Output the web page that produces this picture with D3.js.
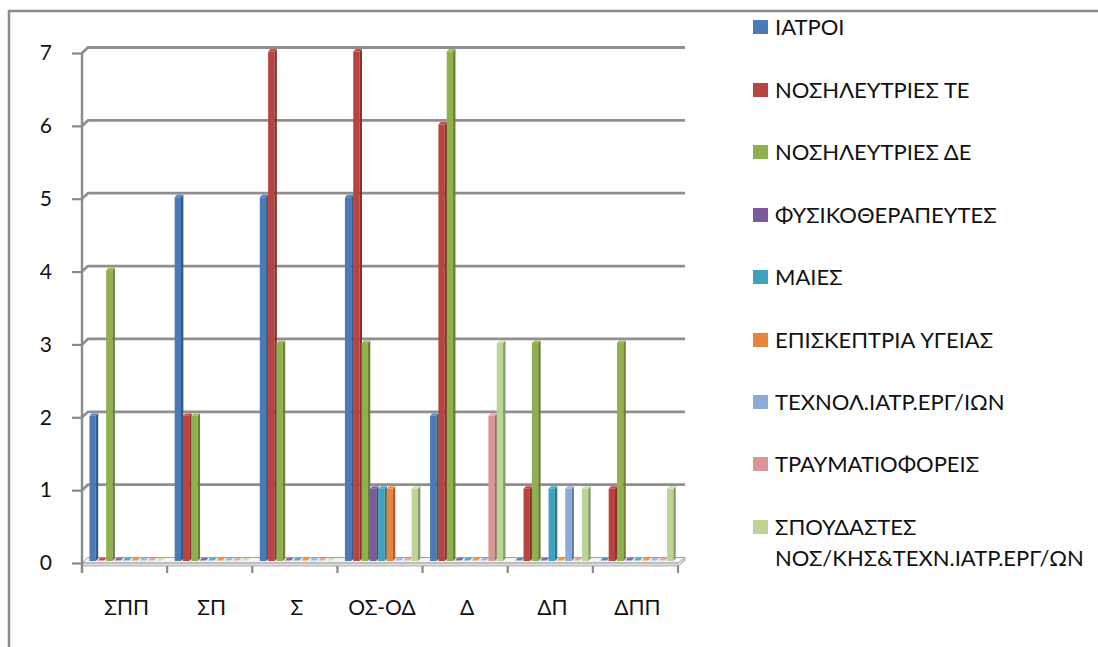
<!DOCTYPE html>
<html>
<head>
<meta charset="utf-8">
<script src="https://cdn.jsdelivr.net/npm/d3@7"></script>
<style>
  html, body { margin: 0; padding: 0; background: #ffffff; }
  svg { display: block; }
  text { font-family: Lato, "Open Sans", "Noto Sans", sans-serif; }
</style>
</head>
<body>
<svg id="chart" width="1098" height="647"></svg>
<script>
// ---- data ----
const categories = ["ΣΠΠ", "ΣΠ", "Σ", "ΟΣ-ΟΔ", "Δ", "ΔΠ", "ΔΠΠ"];
const seriesNames = [
  "ΙΑΤΡΟΙ",
  "ΝΟΣΗΛΕΥΤΡΙΕΣ ΤΕ",
  "ΝΟΣΗΛΕΥΤΡΙΕΣ ΔΕ",
  "ΦΥΣΙΚΟΘΕΡΑΠΕΥΤΕΣ",
  "ΜΑΙΕΣ",
  "ΕΠΙΣΚΕΠΤΡΙΑ ΥΓΕΙΑΣ",
  "ΤΕΧΝΟΛ.ΙΑΤΡ.ΕΡΓ/ΙΩΝ",
  "ΤΡΑΥΜΑΤΙΟΦΟΡΕΙΣ",
  "ΣΠΟΥΔΑΣΤΕΣ ΝΟΣ/ΚΗΣ&ΤΕΧΝ.ΙΑΤΡ.ΕΡΓ/ΩΝ"
];
const iatroi      = [2, 5, 5, 5, 2, 0, 0];
const nosTE       = [0, 2, 7, 7, 6, 1, 1];
const nosDE       = [4, 2, 3, 3, 7, 3, 3];
const fysiko      = [0, 0, 0, 1, 0, 0, 0];
const maies       = [0, 0, 0, 1, 0, 1, 0];
const episkeptria = [0, 0, 0, 1, 0, 0, 0];
const technol     = [0, 0, 0, 0, 0, 1, 0];
const traumatio   = [0, 0, 0, 0, 2, 0, 0];
const spoudastes  = [0, 0, 0, 1, 3, 1, 1];
const yTicks = [0, 1, 2, 3, 4, 5, 6, 7];
const colors = ["#4a7bb7", "#b8433f", "#8fb04d", "#7a5c9c", "#3fa3bd", "#e8843c", "#8eaad8", "#d99694", "#bdd497"];

const seriesValues = [iatroi, nosTE, nosDE, fysiko, maies, episkeptria, technol, traumatio, spoudastes];
const series = seriesNames.map((n, i) => ({ name: n, values: seriesValues[i], color: colors[i] }));

// ---- layout ----
const svg = d3.select("#chart");
const DX = 6, DY = -5.5;        // depth offset of back wall
const BD = 2.4;                 // bar depth

const x0 = d3.scaleBand().domain(categories).range([82, 678]);
const x1 = d3.scaleBand().domain(seriesNames).range([7.5, 82.5]);
const y = d3.scaleLinear().domain([0, 7]).range([563, 53]);

// outer chart border
svg.append("path")
  .attr("d", "M9,647 L9,11 L1098,11")
  .attr("fill", "none").attr("stroke", "#8a8a8a").attr("stroke-width", 2.5);

// gridlines on back wall (with left wall diagonal)
const gl = svg.append("g");
yTicks.forEach(t => {
  if (t === 0) return;
  const yy = y(t);
  gl.append("path")
    .attr("d", `M82,${yy} L${82 + DX},${yy + DY} L${685},${yy + DY}`)
    .attr("fill", "none").attr("stroke", "#8f8f8f").attr("stroke-width", 2.8);
});

// floor slab
const y0 = y(0);
svg.append("path")
  .attr("d", `M82,${y0} L${82 + DX},${y0 + DY} L685,${y0 + DY} L678,${y0} Z`)
  .attr("fill", "#f4f4f4").attr("stroke", "#a0a0a0").attr("stroke-width", 1);
svg.append("rect")
  .attr("x", 82).attr("y", y0).attr("width", 596).attr("height", 3)
  .attr("fill", "#dcdcdc").attr("stroke", "#a0a0a0").attr("stroke-width", 0.8);
svg.append("path")
  .attr("d", `M678,${y0 + 3} L685,${y0 + 3 + DY} L685,${y0 + DY}`)
  .attr("fill", "#c8c8c8").attr("stroke", "#a0a0a0").attr("stroke-width", 0.8);

// bars
const fw = x1.bandwidth() - BD + 0.4;
const bottom = y0 - 2;
const bars = svg.append("g");
series.forEach((s, si) => {
  const c = d3.color(s.color);
  const dark = c.darker(0.9).formatHex();
  const light = c.brighter(0.25).formatHex();
  s.values.forEach((v, ci) => {
    const bx = x0(categories[ci]) + x1(s.name);
    const top = v === 0 ? bottom - 0.6 : y(v) - 1.5;
    const g = bars.append("g");
    if (v > 0) {
      g.append("rect").attr("x", bx).attr("y", top).attr("width", fw).attr("height", bottom - top)
        .attr("fill", s.color);
      g.append("path")
        .attr("d", `M${bx + fw},${top} L${bx + fw + BD},${top - BD} L${bx + fw + BD},${bottom - BD} L${bx + fw},${bottom} Z`)
        .attr("fill", dark);
    }
    g.append("path")
      .attr("d", `M${bx},${top} L${bx + BD},${top - BD} L${bx + fw + BD},${top - BD} L${bx + fw},${top} Z`)
      .attr("fill", light);
  });
});

// y axis line and ticks
svg.append("line").attr("x1", 82).attr("x2", 82).attr("y1", y(7)).attr("y2", 573)
  .attr("stroke", "#8a8a8a").attr("stroke-width", 2.4);
const yAxis = d3.axisLeft(y).tickValues(yTicks).tickSize(10).tickPadding(20).tickFormat(d3.format("d"));
const ya = svg.append("g").attr("transform", "translate(82,0)").call(yAxis);
ya.select(".domain").remove();
ya.selectAll(".tick line").attr("stroke", "#8a8a8a").attr("stroke-width", 2.2);
ya.selectAll(".tick text").attr("font-size", 21).attr("fill", "#111")
  .style("font-family", "Lato, 'Open Sans', sans-serif");

// category ticks at band boundaries
const bounds = categories.map(c => x0(c)).concat([x0.range()[1]]);
svg.append("g").selectAll("line").data(bounds).join("line")
  .attr("x1", d => d).attr("x2", d => d).attr("y1", y0 + 3).attr("y2", 573)
  .attr("stroke", "#8a8a8a").attr("stroke-width", 2.2);

// category labels
svg.append("g").selectAll("text").data(categories).join("text")
  .attr("x", d => x0(d) + x0.bandwidth() / 2 + 2)
  .attr("y", 615)
  .attr("text-anchor", "middle")
  .attr("font-size", 21).attr("fill", "#111")
  .text(d => d);

// legend
const legRows = [27, 90, 152, 215, 277, 340, 402, 464, 527];
const leg = svg.append("g");
series.forEach((s, i) => {
  const cy = legRows[i];
  leg.append("rect").attr("x", 753).attr("y", cy - 7).attr("width", 15).attr("height", 14).attr("fill", s.color);
  const t = leg.append("text").attr("x", 775).attr("y", cy + 8)
    .attr("font-size", 22).attr("fill", "#111");
  if (i === 8) {
    t.append("tspan").attr("x", 775).text("ΣΠΟΥΔΑΣΤΕΣ");
    t.append("tspan").attr("x", 775).attr("dy", 31).text("ΝΟΣ/ΚΗΣ&ΤΕΧΝ.ΙΑΤΡ.ΕΡΓ/ΩΝ");
  } else {
    t.text(s.name);
  }
});
</script>
</body>
</html>
